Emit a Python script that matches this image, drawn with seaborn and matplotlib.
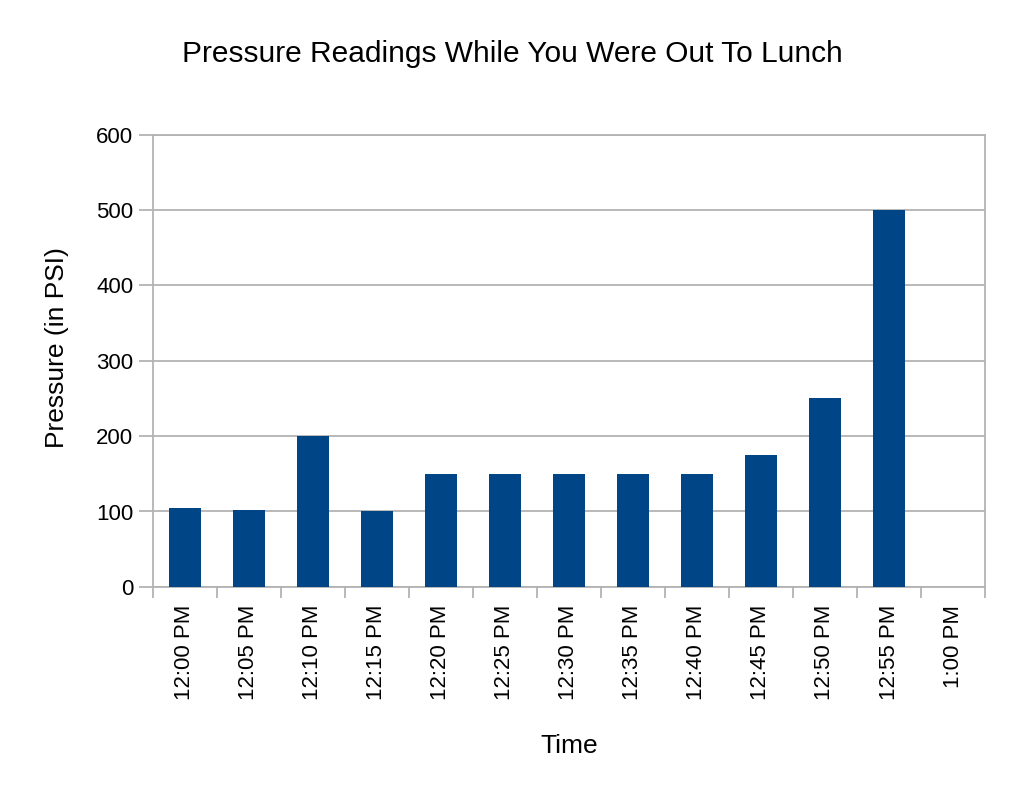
import numpy as np
import pandas as pd
import matplotlib
matplotlib.use('Agg')
import matplotlib.pyplot as plt
import seaborn as sns

# Readings taken every five minutes
times = ['12:00 PM', '12:05 PM', '12:10 PM', '12:15 PM', '12:20 PM',
         '12:25 PM', '12:30 PM', '12:35 PM', '12:40 PM', '12:45 PM',
         '12:50 PM', '12:55 PM', '1:00 PM']
pressure = [104, 102, 200, 101, 150, 150, 150, 150, 150, 175, 250, 500,
            np.nan]
y_ticks = [0, 100, 200, 300, 400, 500, 600]

df = pd.DataFrame({'Time': times, 'Pressure': pressure})

sns.set_style('white')
plt.rcParams['font.family'] = ['Liberation Sans', 'DejaVu Sans']
plt.rcParams['text.color'] = 'black'
plt.rcParams['axes.labelcolor'] = 'black'
plt.rcParams['xtick.color'] = 'black'
plt.rcParams['ytick.color'] = 'black'

grey = '#b3b3b3'
fig = plt.figure(figsize=(10.24, 7.92), dpi=100)
ax = fig.add_axes([0.149, 0.259, 0.813, 0.571])

sns.barplot(data=df, x='Time', y='Pressure', color='#004586', width=0.5,
            saturation=1, linewidth=0, ax=ax, zorder=3)

ax.set_xlim(-0.5, len(times) - 0.5)
ax.set_ylim(0, 600)
ax.set_yticks(y_ticks)
ax.yaxis.grid(True, color=grey, linewidth=1.3, zorder=0)
ax.set_axisbelow(True)
for s in ax.spines.values():
    s.set_color(grey)
    s.set_linewidth(1.3)

# ticks sit between the categories on x
ax.set_xticks(np.arange(len(times)))
ax.set_xticklabels(times, rotation=90, fontsize=16)
ax.set_xticks(np.arange(len(times) + 1) - 0.5, minor=True)
ax.tick_params(axis='x', which='major', length=0, pad=13, bottom=True)
ax.tick_params(axis='x', which='minor', length=8, width=1.3, color=grey,
               bottom=True)
ax.tick_params(axis='y', length=10, width=1.3, color=grey, labelcolor='black',
               labelsize=16, pad=4, left=True)

ax.set_xlabel('Time', fontsize=19, labelpad=24)
ax.set_ylabel('Pressure (in PSI)', fontsize=19)
ax.yaxis.set_label_coords(-0.1, 0.53)
fig.suptitle('Pressure Readings While You Were Out To Lunch', fontsize=21.5,
             y=0.95)

fig.savefig('out.png', dpi=100, facecolor='white')
